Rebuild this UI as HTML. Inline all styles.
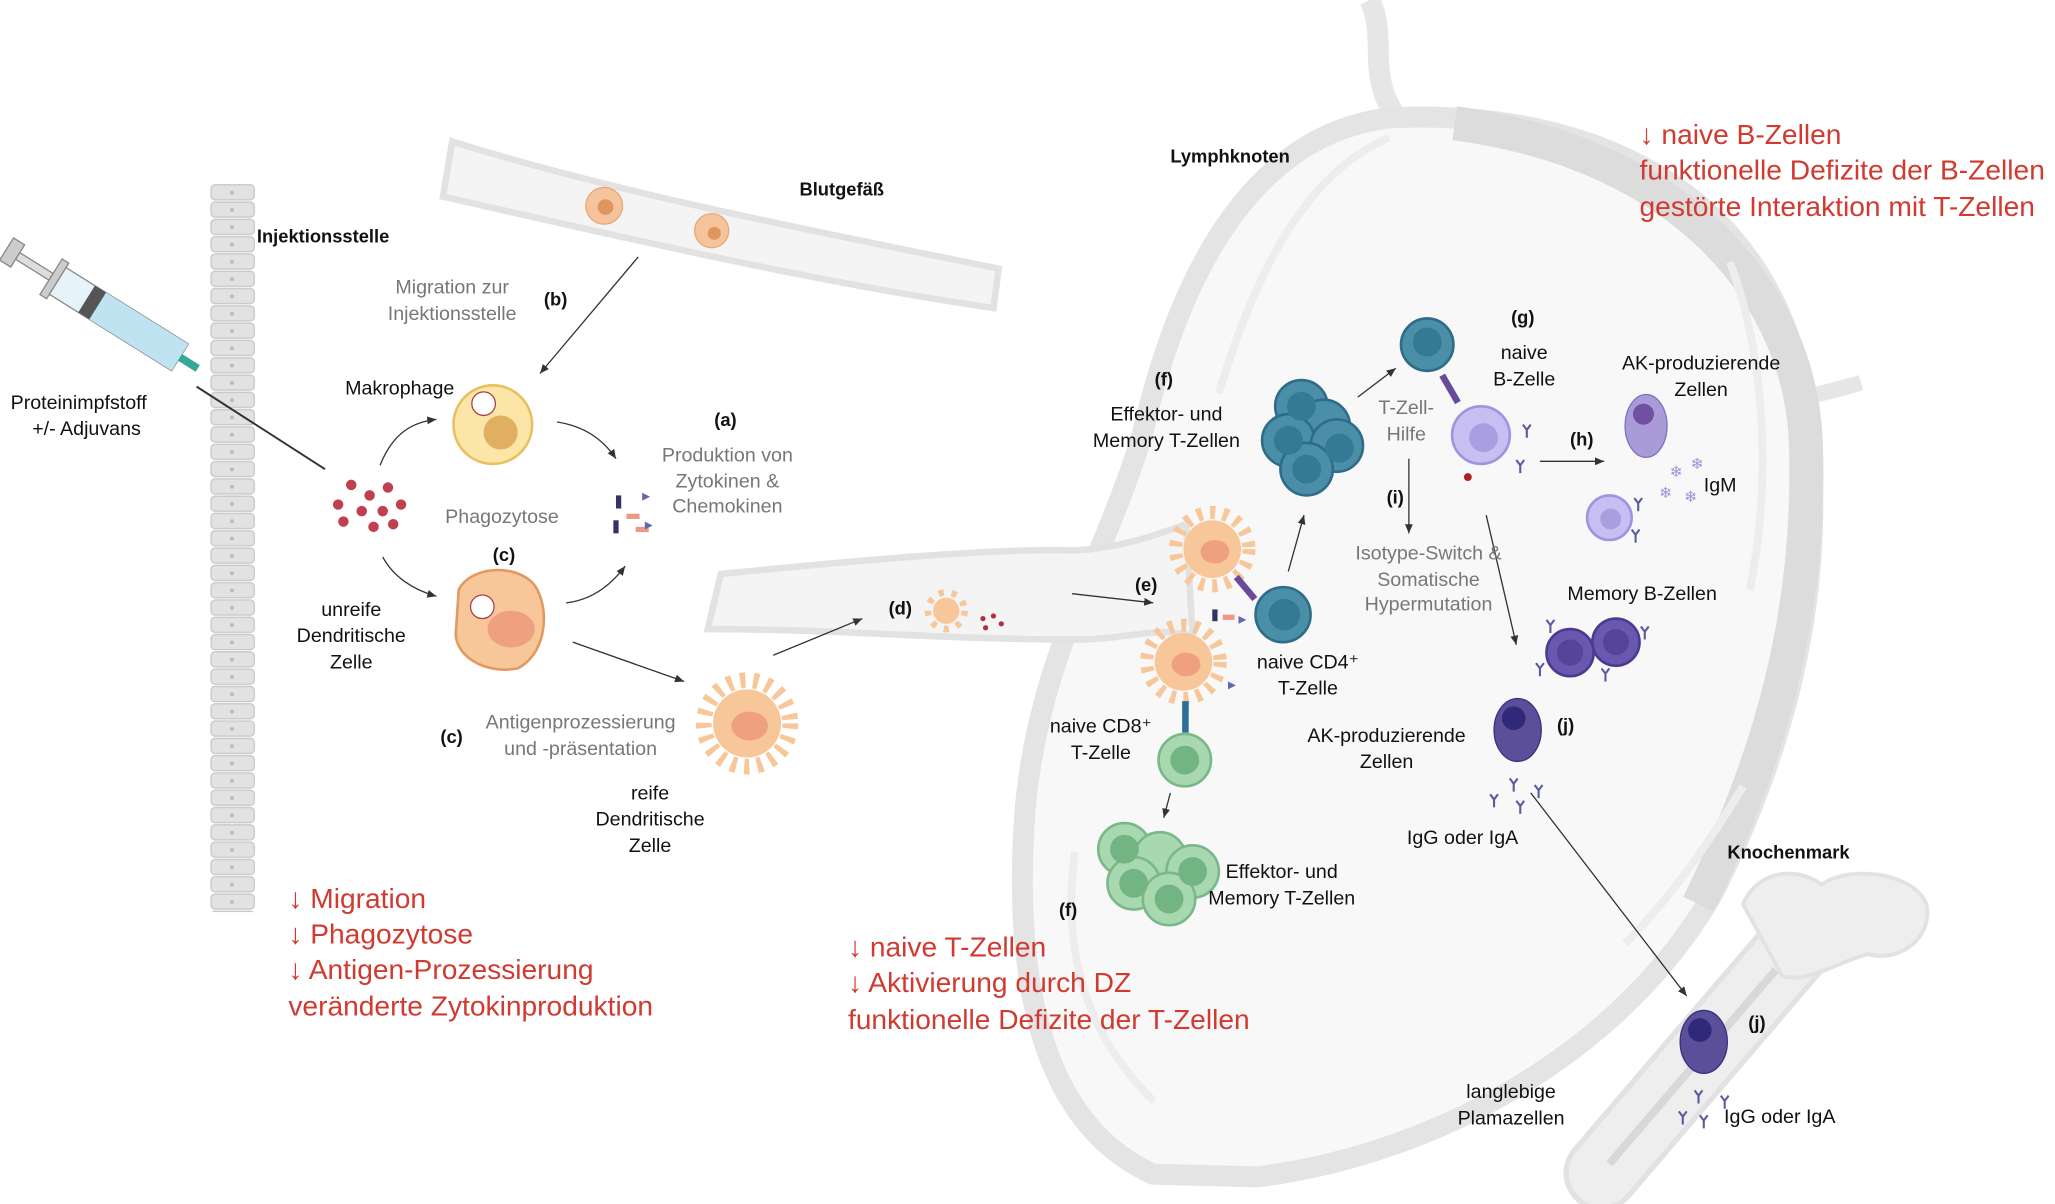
<!DOCTYPE html>
<html><head><meta charset="utf-8"><style>
html,body{margin:0;padding:0;background:#fff;}
svg{display:block;}
text{font-family:"Liberation Sans",sans-serif;}
.l{font-size:15px;fill:#111;}
.g{font-size:15px;fill:#777;}
.b{font-size:14px;font-weight:bold;fill:#111;}
.r{font-size:21.5px;fill:#d03a30;}
</style></head><body>
<svg width="2055" height="1204" viewBox="0 0 1568 918.7" xmlns="http://www.w3.org/2000/svg">
<defs>
<marker id="a" markerWidth="8" markerHeight="8" refX="7" refY="4" orient="auto"><path d="M0,1 L7,4 L0,7z" fill="#333"/></marker>
<pattern id="ep" width="36" height="13.2" patternUnits="userSpaceOnUse" x="160" y="140"><rect x="1" y="1" width="33" height="11.5" rx="3" fill="#e2e2e2" stroke="#c8c8c8"/><circle cx="17" cy="7" r="1.5" fill="#bbb"/></pattern>
<g id="ab"><path d="M0,0 L0,6 M0,0 L-3,-4 M0,0 L3,-4" stroke="#5a5aa0" stroke-width="1.6" fill="none"/></g>
</defs>
<path d="M1045,0 C1060,30 1040,60 1070,95" fill="none" stroke="#e6e6e6" stroke-width="16"/>
<path d="M925,900 C945,870 915,840 945,805" fill="none" stroke="#e6e6e6" stroke-width="16"/>
<path d="M1370,305 C1390,300 1400,298 1420,292" fill="none" stroke="#e6e6e6" stroke-width="12"/>
<path d="M1060,90 C1220,82 1350,150 1376,300 C1398,430 1368,560 1308,680 C1240,800 1100,880 960,898 L880,896 C800,860 772,760 782,620 C792,500 842,430 872,330 C902,200 960,102 1060,90Z" fill="#f8f8f8" stroke="#e4e4e4" stroke-width="16"/>
<path d="M1110,94 C1290,118 1375,230 1378,340 C1382,470 1350,580 1296,690" fill="none" stroke="#dcdcdc" stroke-width="26"/>
<g fill="none" stroke="#ededed" stroke-width="6">
<path d="M1060,105 C1000,130 960,200 930,300"/>
<path d="M1320,200 C1350,280 1350,380 1335,450"/>
<path d="M1330,600 C1300,650 1270,690 1240,720"/>
<path d="M820,650 C810,730 830,790 880,840"/>
</g>
<path d="M550,438 C650,428 760,418 820,420 C860,418 890,405 905,400 L910,485 C880,478 860,488 820,488 C720,488 640,480 540,480 Z" fill="#f4f4f4" stroke="#e2e2e2" stroke-width="5"/>
<path d="M345,108 C480,150 640,180 762,205 L758,235 C620,215 470,180 338,150 Z" fill="#f4f4f4" stroke="#e2e2e2" stroke-width="5"/>
<circle cx="461" cy="157" r="14" fill="#f5c49c" stroke="#e8a878"/><circle cx="462" cy="158" r="6" fill="#e0955e"/>
<circle cx="543" cy="176" r="13" fill="#f5c49c" stroke="#e8a878"/><circle cx="545" cy="178" r="5" fill="#e0955e"/>
<!-- bone -->
<line x1="1222" y1="895" x2="1370" y2="722" stroke="#e2e2e2" stroke-width="58" stroke-linecap="round"/>
<line x1="1222" y1="895" x2="1370" y2="722" stroke="#eeeeee" stroke-width="50" stroke-linecap="round"/>
<path d="M1330,690 C1340,665 1370,660 1390,675 C1410,660 1460,665 1470,690 C1475,715 1450,735 1425,728 C1400,735 1380,750 1360,745 Z" fill="#eeeeee" stroke="#e2e2e2" stroke-width="3"/>
<line x1="1228" y1="888" x2="1355" y2="740" stroke="#d8d8d8" stroke-width="6"/>
<rect x="160" y="140" width="36" height="556" fill="url(#ep)"/>
<g transform="translate(5,190) rotate(32)">
<rect x="0" y="-10" width="10" height="20" fill="#ccc" stroke="#888"/>
<rect x="10" y="-3" width="30" height="6" fill="#ddd" stroke="#888"/>
<rect x="40" y="-16" width="6" height="32" fill="#ccc" stroke="#888"/>
<rect x="46" y="-12" width="110" height="24" fill="#e6f3f8" stroke="#888"/>
<rect x="80" y="-12" width="76" height="24" fill="#bfe3f0"/>
<rect x="72" y="-12" width="10" height="24" fill="#555"/>
<rect x="156" y="-3" width="16" height="6" fill="#3a9"/>
</g>
<line x1="150" y1="295" x2="248" y2="358" stroke="#333" stroke-width="1.5"/>
<g fill="#c04050"><circle cx="268" cy="370" r="4"/><circle cx="282" cy="378" r="4"/><circle cx="296" cy="372" r="4"/><circle cx="258" cy="385" r="4"/><circle cx="276" cy="390" r="4"/><circle cx="292" cy="390" r="4"/><circle cx="306" cy="385" r="4"/><circle cx="262" cy="398" r="4"/><circle cx="285" cy="402" r="4"/><circle cx="300" cy="400" r="4"/></g>
<circle cx="376" cy="324" r="30" fill="#fbe6a8" stroke="#e8c060" stroke-width="2"/><circle cx="382" cy="330" r="13" fill="#e0b060"/><circle cx="369" cy="308" r="9" fill="#fff" stroke="#a44"/>
<path d="M350,450 C360,430 400,430 410,450 C420,470 415,500 395,510 C370,515 345,500 348,480 Z" fill="#f7c79a" stroke="#e29a60" stroke-width="2"/><ellipse cx="390" cy="480" rx="18" ry="14" fill="#eea080"/><circle cx="368" cy="463" r="9" fill="#fff" stroke="#a44"/>
<!-- dendritic cells with spikes -->
<g fill="none" stroke="#f7c79a" stroke-dasharray="4 6">
<circle cx="570" cy="552" r="33" stroke-width="12"/>
<circle cx="925" cy="419" r="28" stroke-width="10"/>
<circle cx="903" cy="505" r="28" stroke-width="10"/>
<circle cx="722" cy="466" r="14" stroke-width="5"/>
</g>
<circle cx="570" cy="552" r="26" fill="#f7c79a"/><ellipse cx="572" cy="554" rx="14" ry="11" fill="#eea080"/>
<circle cx="722" cy="466" r="10" fill="#f7c79a"/>
<circle cx="925" cy="419" r="22" fill="#f7c79a"/><ellipse cx="927" cy="421" rx="11" ry="9" fill="#eea080"/>
<circle cx="903" cy="505" r="22" fill="#f7c79a"/><ellipse cx="905" cy="507" rx="11" ry="9" fill="#eea080"/>
<g fill="#b03040"><circle cx="750" cy="472" r="2"/><circle cx="758" cy="470" r="2"/><circle cx="764" cy="476" r="2"/><circle cx="752" cy="479" r="2"/></g>
<g fill="#336"><rect x="470" y="378" width="4" height="10"/><rect x="468" y="397" width="4" height="10"/><rect x="925" y="465" width="4" height="9"/></g>
<g fill="#e98"><rect x="478" y="392" width="10" height="4"/><rect x="485" y="402" width="10" height="4"/><rect x="933" y="469" width="9" height="4"/></g>
<g fill="#66a"><path d="M490,376 l6,3 -6,3z"/><path d="M492,398 l6,3 -6,3z"/><path d="M945,470 l6,3 -6,3z"/><path d="M937,520 l6,3 -6,3z"/></g>
<rect x="902" y="535" width="5" height="24" fill="#2a6e9a"/>
<rect x="948" y="438" width="5" height="22" fill="#6a4a9a" transform="rotate(-40 950 449)"/>
<g fill="#4a8ea8" stroke="#2e6c88" stroke-width="2">
<circle cx="993" cy="310" r="20"/><circle cx="1010" cy="325" r="20"/><circle cx="983" cy="336" r="20"/><circle cx="1020" cy="340" r="20"/><circle cx="997" cy="358" r="20"/>
<circle cx="1089" cy="263" r="20"/><circle cx="979" cy="469" r="21"/></g>
<g fill="#347a94"><circle cx="993" cy="310" r="11"/><circle cx="983" cy="336" r="11"/><circle cx="1022" cy="342" r="11"/><circle cx="997" cy="358" r="11"/><circle cx="1089" cy="261" r="11"/><circle cx="980" cy="469" r="12"/></g>
<rect x="1104" y="285" width="5" height="24" fill="#6a4a9a" transform="rotate(-30 1106 297)"/>
<g fill="#a8d8b0" stroke="#7ab88a" stroke-width="2"><circle cx="904" cy="580" r="20"/><circle cx="858" cy="648" r="20"/><circle cx="885" cy="655" r="20"/><circle cx="910" cy="665" r="20"/><circle cx="865" cy="674" r="20"/><circle cx="892" cy="686" r="20"/></g>
<g fill="#72b482"><circle cx="904" cy="580" r="11"/><circle cx="858" cy="648" r="11"/><circle cx="865" cy="674" r="11"/><circle cx="910" cy="665" r="11"/><circle cx="892" cy="686" r="11"/></g>
<circle cx="1130" cy="332" r="22" fill="#c7bff2" stroke="#9e94e0" stroke-width="2"/><circle cx="1132" cy="334" r="11" fill="#a89ee0"/>
<circle cx="1120" cy="364" r="3" fill="#b02020"/>
<circle cx="1228" cy="395" r="17" fill="#c7bff2" stroke="#9e94e0" stroke-width="2"/><circle cx="1229" cy="396" r="8" fill="#a89ee0"/>
<ellipse cx="1256" cy="325" rx="16" ry="24" fill="#a89bd8" stroke="#8070c0"/><circle cx="1254" cy="316" r="8" fill="#7050a0"/>
<g font-size="12" fill="#a090d8"><text x="1274" y="364">❄</text><text x="1290" y="358">❄</text><text x="1266" y="380">❄</text><text x="1285" y="383">❄</text></g>
<circle cx="1198" cy="498" r="18" fill="#6a58b0" stroke="#4a3a90" stroke-width="2"/><circle cx="1233" cy="490" r="18" fill="#6a58b0" stroke="#4a3a90" stroke-width="2"/>
<g fill="#54449a"><circle cx="1198" cy="498" r="10"/><circle cx="1233" cy="490" r="10"/></g>
<ellipse cx="1158" cy="557" rx="18" ry="24" fill="#5a4f98" stroke="#3a3080"/><circle cx="1155" cy="548" r="9" fill="#302878"/>
<ellipse cx="1300" cy="795" rx="18" ry="24" fill="#5a4f98" stroke="#3a3080"/><circle cx="1297" cy="786" r="9" fill="#302878"/>
<use href="#ab" x="1165" y="328"/><use href="#ab" x="1160" y="355"/><use href="#ab" x="1250" y="384"/><use href="#ab" x="1248" y="408"/>
<use href="#ab" x="1183" y="477"/><use href="#ab" x="1255" y="482"/><use href="#ab" x="1225" y="514"/><use href="#ab" x="1175" y="510"/>
<use href="#ab" x="1140" y="610"/><use href="#ab" x="1155" y="598"/><use href="#ab" x="1174" y="603"/><use href="#ab" x="1160" y="615"/>
<use href="#ab" x="1284" y="852"/><use href="#ab" x="1300" y="855"/><use href="#ab" x="1296" y="836"/><use href="#ab" x="1316" y="840"/>
<g stroke="#333" stroke-width="1" fill="none" marker-end="url(#a)">
<line x1="487" y1="196" x2="412" y2="285"/>
<path d="M290,355 C300,330 315,322 333,320"/>
<path d="M292,425 C300,440 315,450 333,455"/>
<path d="M425,322 C445,325 460,335 470,350"/>
<path d="M432,460 C450,458 465,448 477,432"/>
<line x1="437" y1="490" x2="522" y2="520"/>
<line x1="590" y1="500" x2="658" y2="472"/>
<line x1="818" y1="453" x2="880" y2="460"/>
<line x1="983" y1="436" x2="995" y2="393"/>
<line x1="1036" y1="303" x2="1065" y2="281"/>
<line x1="1075" y1="350" x2="1075" y2="407"/>
<line x1="1134" y1="393" x2="1157" y2="492"/>
<line x1="1175" y1="352" x2="1224" y2="352"/>
<line x1="893" y1="605" x2="888" y2="624"/>
<line x1="1168" y1="605" x2="1287" y2="760"/>
</g>
<text x="196" y="185" class="b">Injektionsstelle</text>
<text x="610" y="149" class="b">Blutgefäß</text>
<text x="893" y="124" class="b">Lymphknoten</text>
<text x="1318" y="655" class="b">Knochenmark</text>
<text x="60" y="312" class="l" text-anchor="middle">Proteinimpfstoff</text>
<text x="66" y="332" class="l" text-anchor="middle">+/- Adjuvans</text>
<text x="345" y="224" class="g" text-anchor="middle">Migration zur</text>
<text x="345" y="244" class="g" text-anchor="middle">Injektionsstelle</text>
<text x="415" y="233" class="b">(b)</text>
<text x="305" y="301" class="l" text-anchor="middle">Makrophage</text>
<text x="545" y="325" class="b">(a)</text>
<text x="555" y="352" class="g" text-anchor="middle">Produktion von</text>
<text x="555" y="372" class="g" text-anchor="middle">Zytokinen &amp;</text>
<text x="555" y="391" class="g" text-anchor="middle">Chemokinen</text>
<text x="383" y="399" class="g" text-anchor="middle">Phagozytose</text>
<text x="376" y="428" class="b">(c)</text>
<text x="268" y="470" class="l" text-anchor="middle">unreife</text>
<text x="268" y="490" class="l" text-anchor="middle">Dendritische</text>
<text x="268" y="510" class="l" text-anchor="middle">Zelle</text>
<text x="336" y="567" class="b">(c)</text>
<text x="443" y="556" class="g" text-anchor="middle">Antigenprozessierung</text>
<text x="443" y="576" class="g" text-anchor="middle">und -präsentation</text>
<text x="496" y="610" class="l" text-anchor="middle">reife</text>
<text x="496" y="630" class="l" text-anchor="middle">Dendritische</text>
<text x="496" y="650" class="l" text-anchor="middle">Zelle</text>
<text x="678" y="469" class="b">(d)</text>
<text x="866" y="451" class="b">(e)</text>
<text x="881" y="294" class="b">(f)</text>
<text x="890" y="321" class="l" text-anchor="middle">Effektor- und</text>
<text x="890" y="341" class="l" text-anchor="middle">Memory T-Zellen</text>
<text x="1073" y="316" class="g" text-anchor="middle">T-Zell-</text>
<text x="1073" y="336" class="g" text-anchor="middle">Hilfe</text>
<text x="1153" y="247" class="b">(g)</text>
<text x="1163" y="274" class="l" text-anchor="middle">naive</text>
<text x="1163" y="294" class="l" text-anchor="middle">B-Zelle</text>
<text x="1298" y="282" class="l" text-anchor="middle">AK-produzierende</text>
<text x="1298" y="302" class="l" text-anchor="middle">Zellen</text>
<text x="1198" y="340" class="b">(h)</text>
<text x="1300" y="375" class="l">IgM</text>
<text x="1058" y="384" class="b">(i)</text>
<text x="1090" y="427" class="g" text-anchor="middle">Isotype-Switch &amp;</text>
<text x="1090" y="447" class="g" text-anchor="middle">Somatische</text>
<text x="1090" y="466" class="g" text-anchor="middle">Hypermutation</text>
<text x="1253" y="458" class="l" text-anchor="middle">Memory B-Zellen</text>
<text x="998" y="510" class="l" text-anchor="middle">naive CD4⁺</text>
<text x="998" y="530" class="l" text-anchor="middle">T-Zelle</text>
<text x="840" y="559" class="l" text-anchor="middle">naive CD8⁺</text>
<text x="840" y="579" class="l" text-anchor="middle">T-Zelle</text>
<text x="1058" y="566" class="l" text-anchor="middle">AK-produzierende</text>
<text x="1058" y="586" class="l" text-anchor="middle">Zellen</text>
<text x="1188" y="558" class="b">(j)</text>
<text x="1116" y="644" class="l" text-anchor="middle">IgG oder IgA</text>
<text x="978" y="670" class="l" text-anchor="middle">Effektor- und</text>
<text x="978" y="690" class="l" text-anchor="middle">Memory T-Zellen</text>
<text x="808" y="699" class="b">(f)</text>
<text x="1334" y="785" class="b">(j)</text>
<text x="1153" y="838" class="l" text-anchor="middle">langlebige</text>
<text x="1153" y="858" class="l" text-anchor="middle">Plamazellen</text>
<text x="1358" y="857" class="l" text-anchor="middle">IgG oder IgA</text>
<text x="220" y="693" class="r">↓ Migration</text>
<text x="220" y="720" class="r">↓ Phagozytose</text>
<text x="220" y="747" class="r">↓ Antigen-Prozessierung</text>
<text x="220" y="775" class="r">veränderte Zytokinproduktion</text>
<text x="647" y="730" class="r">↓ naive T-Zellen</text>
<text x="647" y="757" class="r">↓ Aktivierung durch DZ</text>
<text x="647" y="785" class="r">funktionelle Defizite der T-Zellen</text>
<text x="1251" y="110" class="r">↓ naive B-Zellen</text>
<text x="1251" y="137" class="r">funktionelle Defizite der B-Zellen</text>
<text x="1251" y="165" class="r">gestörte Interaktion mit T-Zellen</text>
</svg>
</body></html>
